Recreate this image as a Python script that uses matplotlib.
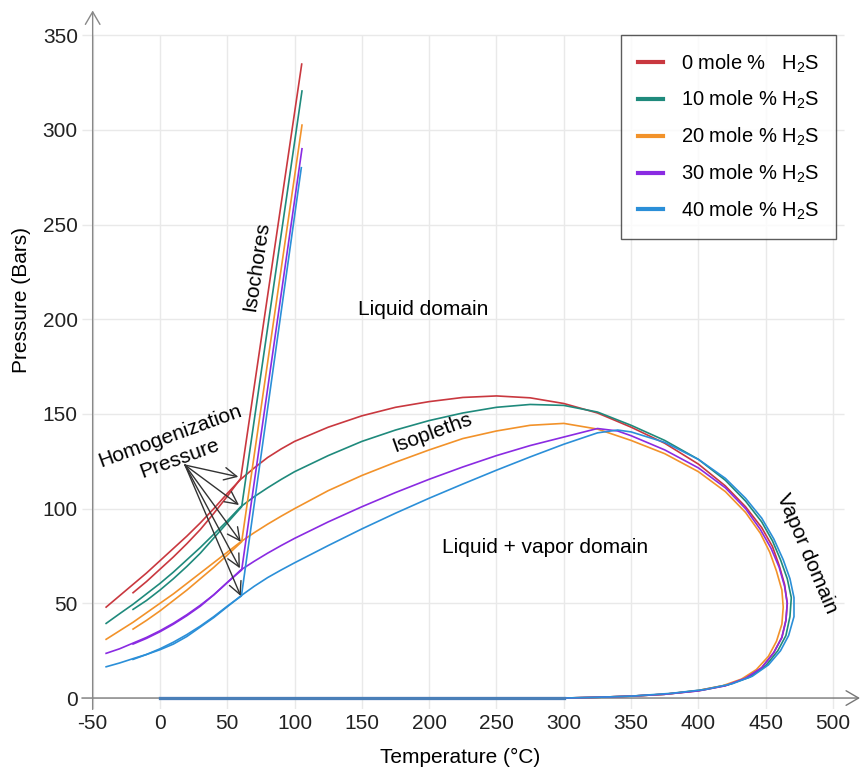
import matplotlib
matplotlib.use("Agg")
import matplotlib.pyplot as plt

plt.rcParams["font.family"] = ["Liberation Sans", "DejaVu Sans"]
plt.rcParams["mathtext.fontset"] = "custom"
plt.rcParams["mathtext.rm"] = "Liberation Sans"
plt.rcParams["axes.unicode_minus"] = False

# isopleths (T in deg C, P in bars), one envelope per composition
t_0 = [-40, -30, -20, -10, 0, 10, 20, 30, 40, 50, 60, 70, 80, 90, 100, 125, 150, 175, 200, 225, 250, 275, 300,
       325, 350, 375, 400, 420, 435, 447, 455, 460, 464, 466, 465, 462, 456, 447, 435, 420, 400, 375, 350, 325, 300, 0]
p_0 = [48, 54, 60, 66, 72.5, 79, 85.5, 92.5, 100, 108, 115.5, 121.5, 127, 131.5, 135.5, 143, 149, 153.5, 156.5, 158.7, 159.5, 158.5, 155.5,
       150.5, 143, 134.5, 123.5, 112, 101, 90, 80, 70, 60, 50, 41, 32, 24, 16, 10.5, 6.5, 3.8, 2, 1, 0.4, 0, 0]

t_10 = [-40, -30, -20, -10, 0, 10, 20, 30, 40, 50, 60, 70, 80, 90, 100, 125, 150, 175, 200, 225, 250, 275, 300,
        325, 350, 375, 400, 420, 435, 447, 455, 461, 466, 469, 468, 465, 459, 450, 438, 422, 400, 375, 350, 325, 300, 0]
p_10 = [39.4, 44.5, 49.5, 55, 60.5, 66.5, 73, 79.5, 86.5, 93.5, 101, 106.3, 111, 115.4, 119.5, 128, 135.5, 141.5, 146.5, 150.5, 153.5, 155, 154.5,
        151, 144, 136, 126, 115, 104, 93, 83, 73, 63, 53, 43, 33, 25, 17, 11, 7, 4, 2, 1, 0.4, 0, 0]

t_20 = [-40, -30, -20, -10, 0, 10, 20, 30, 40, 50, 60, 70, 80, 90, 100, 125, 150, 175, 200, 225, 250, 275, 300,
        325, 350, 375, 400, 420, 435, 446, 453, 458, 462, 463, 462, 458, 452, 443, 432, 418, 400, 375, 350, 325, 300, 0]
p_20 = [31, 35.5, 40, 45, 50, 55, 60.5, 66, 71.5, 77, 82.5, 87.3, 91.8, 96, 100, 109.5, 117.5, 124.5, 131, 137, 141, 144, 145,
        142, 136, 129, 119.5, 109, 98, 87, 77, 67, 57, 48, 39, 30, 22, 15, 10, 6.5, 4, 2, 1, 0.4, 0, 0]

t_30 = [-40, -30, -20, -10, 0, 10, 20, 30, 40, 50, 60, 70, 80, 90, 100, 125, 150, 175, 200, 225, 250, 275, 300,
        325, 340, 350, 375, 400, 420, 435, 446, 454, 460, 464, 466, 465, 462, 456, 447, 435, 420, 400, 375, 350, 325, 300, 0]
p_30 = [23.6, 26, 29, 32, 35.5, 39.5, 44, 49, 54.5, 61, 67.6, 72.2, 76.5, 80.5, 84.3, 93, 101, 108.5, 115.5, 122, 128, 133.3, 137.8,
        142.3, 141, 138.5, 131, 121.5, 111, 100, 89, 79, 69, 59, 50, 41, 32, 24, 16, 10.5, 6.5, 3.8, 2, 1, 0.4, 0, 0]

t_40 = [-40, -30, -20, -10, 0, 10, 20, 30, 40, 50, 60, 70, 80, 90, 100, 125, 150, 175, 200, 225, 250, 275, 300,
        325, 340, 350, 375, 400, 420, 435, 447, 456, 463, 468, 471, 471, 467, 461, 452, 440, 425, 405, 380, 350, 325, 300, 0]
p_40 = [16.5, 18.5, 20.8, 23, 25.5, 28.5, 32.5, 37.5, 42.5, 48.2, 53.9, 59, 63.6, 67.6, 71.4, 80.5, 89.3, 97.6, 105.5, 113, 120.3, 127.3, 134,
        140, 141.5, 140.5, 135, 126, 116, 105.5, 95, 84, 73, 63, 53, 43, 33, 25, 17.5, 11.5, 7.5, 4.5, 2.5, 1, 0.4, 0, 0]

# isochores: along the L+V curve up to homogenization, then the steep straight part
ic_t_0 = [-20, -10, 0, 10, 20, 30, 40, 50, 60, 105.3]
ic_p_0 = [55.6, 61.5, 68, 74.5, 81.5, 89, 97.5, 106.5, 116, 334.7]
ic_t_10 = [-20, -10, 0, 10, 20, 30, 40, 50, 60.7, 105.5]
ic_p_10 = [46.8, 51.5, 57, 63, 69.5, 76.5, 84.5, 92.5, 101, 320.5]
ic_t_20 = [-20, -10, 0, 10, 20, 30, 40, 50, 60.7, 105.5]
ic_p_20 = [36.4, 41, 46, 51.5, 57, 63, 69, 75.5, 82.5, 302.5]
ic_t_30 = [-20, -10, 0, 10, 20, 30, 40, 50, 60.7, 105.5]
ic_p_30 = [28.5, 31.5, 35, 39, 43.5, 48.5, 54.5, 61, 67.6, 290]
ic_t_40 = [-20, -10, 0, 10, 20, 30, 40, 50, 60.5, 105]
ic_p_40 = [20.4, 23, 26, 29.5, 33.5, 38, 43, 48.5, 53.9, 280]

# homogenization points the arrows point to
hom_t = [58.2, 58.7, 60, 59.4, 60]
hom_p = [116.8, 101.9, 82.5, 68.5, 53.9]

labels = ["0 mole %   H$_\\mathregular{2}$S", "10 mole % H$_\\mathregular{2}$S", "20 mole % H$_\\mathregular{2}$S",
          "30 mole % H$_\\mathregular{2}$S", "40 mole % H$_\\mathregular{2}$S"]
colors = ["#c9383f", "#1f8a7c", "#f2922a", "#8a2be2", "#2b8fd8"]

xticks = list(range(-50, 501, 50))
yticks = list(range(0, 351, 50))

fig = plt.figure(figsize=(8.62, 7.72), dpi=100)
ax = fig.add_axes([79.2 / 862, (772 - 709.4) / 772, (861.3 - 79.2) / 862, (709.4 - 8.6) / 772])
ax.set_xlim(-60, 521)
ax.set_ylim(-6, 364)
for s in ax.spines.values():
    s.set_visible(False)

# grid
ax.vlines(xticks, -6, 350, color="#e9e9e9", lw=1, zorder=0)
ax.hlines(yticks[1:], -58, 508, color="#e9e9e9", lw=1, zorder=0)

# axes with arrows
ax.annotate("", xy=(520, 0), xytext=(-58, 0),
            arrowprops=dict(arrowstyle="->,head_length=0.6,head_width=0.35", color="#777777", lw=1,
                            mutation_scale=15, shrinkA=0, shrinkB=0), zorder=1)
ax.annotate("", xy=(-50, 363), xytext=(-50, -6),
            arrowprops=dict(arrowstyle="->,head_length=0.6,head_width=0.35", color="#888888", lw=1,
                            mutation_scale=15, shrinkA=0, shrinkB=0), zorder=1)

iso = [(t_0, p_0), (t_10, p_10), (t_20, p_20), (t_30, p_30), (t_40, p_40)]
ich = [(ic_t_0, ic_p_0), (ic_t_10, ic_p_10), (ic_t_20, ic_p_20), (ic_t_30, ic_p_30), (ic_t_40, ic_p_40)]
for (t, p), (it, ip), c, lab in zip(iso, ich, colors, labels):
    ax.plot(t, p, color=c, lw=1.2, label=lab, zorder=3, solid_joinstyle="round")
    ax.plot(t[-2:], p[-2:], color="#4a7fb8", lw=2.2, zorder=3)
    ax.plot(it, ip, color=c, lw=1.2, zorder=3, solid_joinstyle="round")

# arrows
for ht, hp in zip(hom_t, hom_p):
    ax.annotate("", xy=(ht, hp), xytext=(18.6, 123),
                arrowprops=dict(arrowstyle="->,head_length=0.6,head_width=0.3", color="#333333", lw=1,
                                mutation_scale=15, shrinkA=0, shrinkB=0), zorder=4)

fs = 15
ax.text(71.8, 228, "Isochores", rotation=81.5, ha="center", va="center", fontsize=fs)
ax.text(195.4, 205, "Liquid domain", ha="center", va="center", fontsize=fs)
ax.text(286, 79.7, "Liquid + vapor domain", ha="center", va="center", fontsize=fs)
ax.text(201.8, 140, "Isopleths", rotation=20, ha="center", va="center", fontsize=fs)
ax.text(480.4, 76.4, "Vapor domain", rotation=-67, ha="center", va="center", fontsize=fs)
ax.text(7.4, 138.3, "Homogenization", rotation=20, ha="center", va="center", fontsize=fs)
ax.text(14.9, 126.7, "Pressure", rotation=20, ha="center", va="center", fontsize=fs)

ax.set_xticks(xticks)
ax.set_yticks(yticks)
ax.tick_params(length=0, labelsize=fs, colors="#222222")
ax.tick_params(axis="x", pad=3)
ax.tick_params(axis="y", pad=1)

fig.text(460 / 862, 1 - 757 / 772, "Temperature (°C)", ha="center", va="center", fontsize=fs)
fig.text(22 / 862, 1 - 300 / 772, "Pressure (Bars)", ha="center", va="center", rotation=90, fontsize=fs)

leg = ax.legend(loc="upper right", bbox_to_anchor=(502.2, 350), bbox_transform=ax.transData,
                borderaxespad=0, fontsize=14.5, frameon=True, fancybox=False, handlelength=1.25,
                handletextpad=0.85, labelspacing=0.72, borderpad=0.85)
leg.get_frame().set_edgecolor("#333333")
leg.get_frame().set_linewidth(1)
for h in leg.legend_handles:
    h.set_linewidth(3)

fig.savefig("out.png", dpi=100)
